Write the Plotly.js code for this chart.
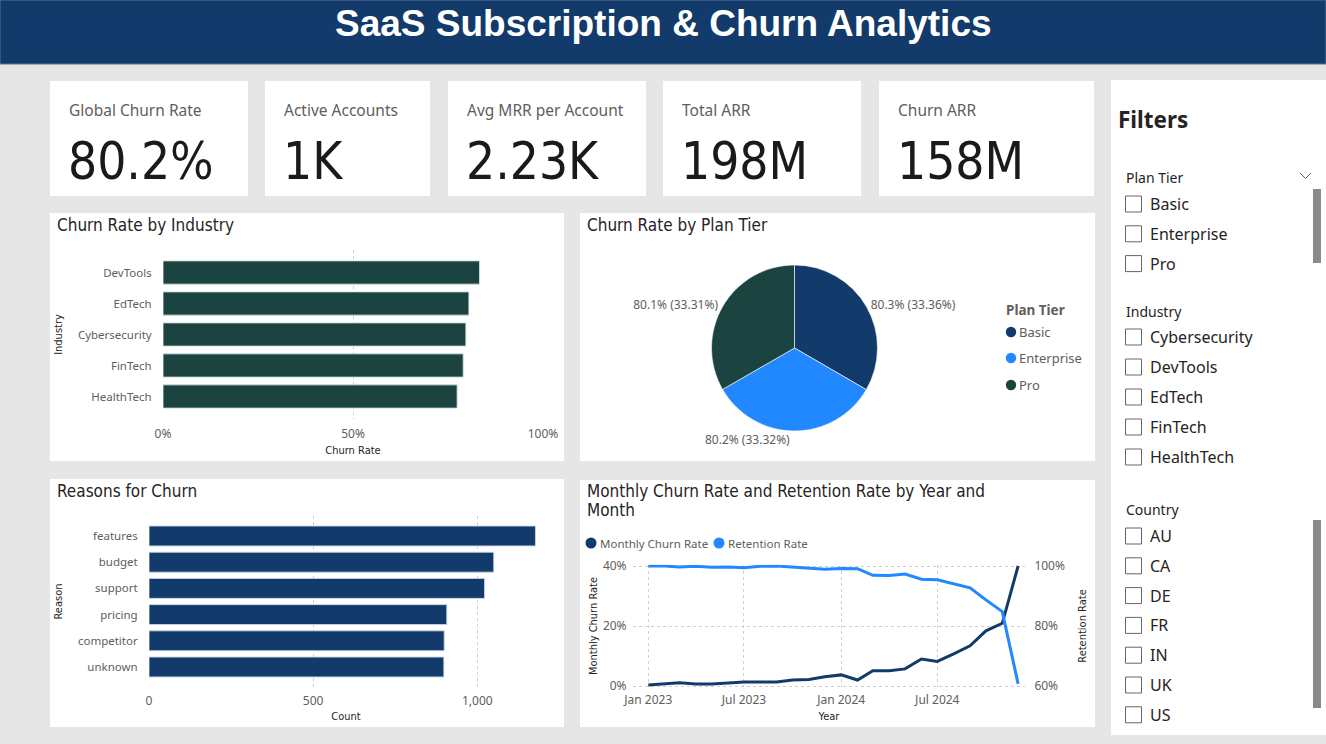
<!DOCTYPE html>
<html><head><meta charset="utf-8">
<script src="https://cdn.plot.ly/plotly-3.0.1.min.js"></script>
<style>html,body{margin:0;padding:0;background:#e6e6e6;overflow:hidden}#chart{width:1326px;height:744px}</style>
</head><body><div id="chart"></div>
<script>
// ---------- DATA ----------
const dashboardTitle = 'SaaS Subscription & Churn Analytics';
const kpiLabels = ['Global Churn Rate','Active Accounts','Avg MRR per Account','Total ARR','Churn ARR'];
const kpiValues = ['80.2%','1K','2.23K','198M','158M'];

const industries = ['DevTools','EdTech','Cybersecurity','FinTech','HealthTech'];
const industryChurn = [0.833,0.805,0.797,0.790,0.774];

const planTiers = ['Basic','Enterprise','Pro'];
const planChurn = [0.8027,0.80174,0.80145];

const reasons = ['features','budget','support','pricing','competitor','unknown'];
const reasonCounts = [1177,1050,1022,907,899,898];

const months = ['2023-01-01','2023-02-01','2023-03-01','2023-04-01','2023-05-01','2023-06-01',
  '2023-07-01','2023-08-01','2023-09-01','2023-10-01','2023-11-01','2023-12-01',
  '2024-01-01','2024-02-01','2024-03-01','2024-04-01','2024-05-01','2024-06-01',
  '2024-07-01','2024-08-01','2024-09-01','2024-10-01','2024-11-01','2024-12-01'];
const monthlyChurn = [0.003,0.007,0.011,0.007,0.007,0.010,0.013,0.013,0.013,0.020,0.022,0.031,
  0.037,0.020,0.051,0.051,0.057,0.090,0.082,0.107,0.134,0.184,0.209,0.400];
const retentionRate = [1.000,1.000,0.997,0.999,0.996,0.997,0.994,0.999,1.000,0.996,0.994,0.989,
  0.992,0.991,0.969,0.968,0.973,0.956,0.954,0.940,0.927,0.887,0.848,0.607];
const lineSeriesNames = ['Monthly Churn Rate','Retention Rate'];

const filterPlanTiers = ['Basic','Enterprise','Pro'];
const filterIndustries = ['Cybersecurity','DevTools','EdTech','FinTech','HealthTech'];
const filterCountries = ['AU','CA','DE','FR','IN','UK','US'];

// ---------- STYLE ----------
const W = 1326, H = 744;
const NAVY = '#123B6B', LIGHT = '#2188FF', TEAL = '#1B4340';
const planColors = [NAVY, LIGHT, TEAL];
const lineColors = [NAVY, LIGHT];
const GRAY = '#605e5c', DARK = '#252423';
const DIN = '"DejaVu Sans Condensed", "DejaVu Sans", sans-serif';
const SEGOE = '"Segoe UI", "Noto Sans", "Open Sans", sans-serif';

const px = x => x / W;
const py = y => 1 - y / H;
const domX = (a, b) => [px(a), px(b)];
const domY = (top, bottom) => [py(bottom), py(top)];

const shapes = [];
const annotations = [];
function rect(x0, y0, x1, y1, fill, line, lw) {
  shapes.push({type:'rect', xref:'paper', yref:'paper', x0:px(x0), x1:px(x1), y0:py(y1), y1:py(y0),
    fillcolor:fill, line:{color:line||fill, width:lw===undefined?0:lw}, layer:'below'});
}
function circle(cx, cy, r, fill) {
  shapes.push({type:'circle', xref:'paper', yref:'paper', x0:px(cx-r), x1:px(cx+r), y0:py(cy+r), y1:py(cy-r),
    fillcolor:fill, line:{width:0}, layer:'above'});
}
function text(x, y, str, o) {
  o = o || {};
  annotations.push({xref:'paper', yref:'paper', x:px(x), y:py(y), text:str, showarrow:false,
    xanchor:o.xa||'left', yanchor:o.ya||'middle', align:o.align||'left',
    font:{family:o.family||SEGOE, size:o.size||12, color:o.color||GRAY, weight:o.weight||'normal'}});
}

// header
rect(0, 0, W, 64, NAVY, '#5d7390', 1);
text(663, 24, dashboardTitle, {xa:'center', family:'"Liberation Sans", Arial, sans-serif', size:37, color:'#ffffff', weight:'bold'});

// KPI cards
const cardX = [[50,248],[265,430],[448,646],[663,861],[879,1094]];
cardX.forEach((c, i) => {
  rect(c[0], 81, c[1], 196, '#ffffff');
  text(c[0]+17, 110, kpiLabels[i], {size:15.5, color:GRAY});
  text(c[0]+16, 161, kpiValues[i], {family:DIN, size:51, color:'#1b1a19'});
});

// chart panels
rect(50, 213, 564, 461, '#ffffff');
rect(580, 213, 1095, 461, '#ffffff');
rect(50, 479, 564, 727, '#ffffff');
rect(580, 480, 1095, 727, '#ffffff');
text(55, 225, 'Churn Rate by Industry', {family:DIN, size:17, color:DARK});
text(585, 225, 'Churn Rate by Plan Tier', {family:DIN, size:17, color:DARK});
text(55, 491, 'Reasons for Churn', {family:DIN, size:17, color:DARK});
text(585, 491, 'Monthly Churn Rate and Retention Rate by Year and', {family:DIN, size:17, color:DARK});
text(585, 510, 'Month', {family:DIN, size:17, color:DARK});

// pie legend
text(1004, 310, 'Plan Tier', {size:13.5, color:GRAY, weight:'bold'});
planTiers.forEach((t, i) => {
  const y = [332,358,385][i];
  circle(1011, y, 5.2, planColors[i]);
  text(1017, y, t, {size:13, color:GRAY});
});
// line legend
const legX = [591, 719];
lineSeriesNames.forEach((n, i) => {
  circle(legX[i], 543, 5.5, lineColors[i]);
  text(legX[i] + 6.5, 543, n, {size:11.5, color:GRAY});
});

// filter panel
rect(1111, 80, 1326, 735, '#ffffff');
text(1116, 120, 'Filters', {size:22.5, color:DARK, weight:'bold'});
shapes.push({type:'path', xref:'paper', yref:'paper', line:{color:GRAY, width:1},
  path:`M${px(1300)},${py(173)} L${px(1305.5)},${py(178.5)} L${px(1311)},${py(173)}`});
function filterGroup(title, titleY, items, startY, step) {
  text(1124, titleY, title, {size:14, color:DARK});
  items.forEach((it, i) => {
    const y = startY + i * step;
    rect(1125.5, y-8, 1141.5, y+8, '#ffffff', '#666666', 1);
    text(1148, y, it, {size:16, color:DARK});
  });
}
filterGroup('Plan Tier', 177, filterPlanTiers, 204, 29.8);
filterGroup('Industry', 311, filterIndustries, 337, 30);
filterGroup('Country', 510, filterCountries, 536, 29.8);
rect(1313, 189, 1321, 263, '#8a8a8a');
rect(1313, 520, 1321, 708, '#8a8a8a');

// ---------- TRACES ----------
const traces = [
  {type:'bar', orientation:'h', x:industryChurn, y:industries, xaxis:'x', yaxis:'y', width:0.75,
   marker:{color:TEAL, line:{color:'rgba(210,225,222,0.9)', width:1}}, showlegend:false},
  {type:'bar', orientation:'h', x:reasonCounts, y:reasons, xaxis:'x2', yaxis:'y2', width:0.76,
   marker:{color:NAVY, line:{color:'rgba(200,212,228,0.9)', width:1}}, showlegend:false},
  {type:'pie', labels:planTiers, values:planChurn, sort:false, direction:'clockwise', rotation:0,
   domain:{x:domX(711,878), y:domY(265,431)}, marker:{colors:planColors, line:{color:'rgba(255,255,255,0.6)', width:1}},
   textposition:'outside', texttemplate:'%{value:.1%} (%{percent:.2%})', textfont:{family:SEGOE, size:12, color:GRAY},
   showlegend:false, automargin:false},
  {type:'scatter', mode:'lines', name:lineSeriesNames[0], x:months, y:monthlyChurn, xaxis:'x3', yaxis:'y3',
   line:{color:lineColors[0], width:3}, showlegend:false},
  {type:'scatter', mode:'lines', name:lineSeriesNames[1], x:months, y:retentionRate, xaxis:'x3', yaxis:'y4',
   line:{color:lineColors[1], width:3}, showlegend:false}
];

const tickFont = {family:SEGOE, size:12, color:GRAY};
const catFont = {family:SEGOE, size:11.5, color:GRAY};
const axTitleFont = {family:DIN, size:11, color:DARK};
const noTick = {ticks:'outside', tickcolor:'rgba(0,0,0,0)'};
const grid = {showgrid:true, gridcolor:'#cfcfcf', griddash:'dot', gridwidth:1, zeroline:false, showline:false};

const layout = {
  width:W, height:H, margin:{l:0, r:0, t:0, b:0}, paper_bgcolor:'#e6e6e6', plot_bgcolor:'rgba(0,0,0,0)',
  showlegend:false, shapes, annotations,
  xaxis: Object.assign({domain:domX(163,543), anchor:'y', range:[0,1], tickvals:[0,0.5,1], tickformat:'.0%',
    tickfont:tickFont, ticklen:4, title:{text:'Churn Rate', font:axTitleFont, standoff:4}}, noTick, grid),
  yaxis: Object.assign({domain:domY(250,419), anchor:'x', type:'category', categoryorder:'array', categoryarray:industries,
    range:[4.726,-0.726], showgrid:false, zeroline:false, tickfont:catFont, ticklen:8,
    title:{text:'Industry', font:axTitleFont, standoff:13}}, noTick),
  xaxis2: Object.assign({domain:domX(149,543), anchor:'y2', range:[0,1200], tickvals:[0,500,1000], tickformat:',d',
    tickfont:tickFont, ticklen:3, title:{text:'Count', font:axTitleFont, standoff:3}}, noTick, grid),
  yaxis2: Object.assign({domain:domY(516,687), anchor:'x2', type:'category', categoryorder:'array', categoryarray:reasons,
    range:[5.763,-0.763], showgrid:false, zeroline:false, tickfont:catFont, ticklen:8,
    title:{text:'Reason', font:axTitleFont, standoff:13}}, noTick),
  xaxis3: Object.assign({domain:domX(633,1025), anchor:'y3', type:'date', range:['2022-12-03','2024-12-14'],
    tick0:'2023-01-01', dtick:'M6', tickformat:'%b %Y', tickfont:tickFont, ticklen:1,
    title:{text:'Year', font:axTitleFont, standoff:5}}, noTick, grid),
  yaxis3: Object.assign({domain:domY(564.8,687.2), anchor:'x3', range:[-0.004,0.404], tickvals:[0,0.2,0.4], tickformat:'.0%',
    tickfont:tickFont, ticklen:3, title:{text:'Monthly Churn Rate', font:axTitleFont, standoff:3}}, noTick, grid),
  yaxis4: Object.assign({domain:domY(564.8,687.2), anchor:'x3', overlaying:'y3', side:'right', range:[0.596,1.004], tickvals:[0.6,0.8,1.0], tickformat:'.0%',
    showgrid:false, zeroline:false, tickfont:tickFont, ticklen:6,
    title:{text:'Retention Rate', font:axTitleFont, standoff:14}}, noTick)
};

Plotly.newPlot('chart', traces, layout, {displayModeBar:false, staticPlot:true});
</script>
</body></html>
